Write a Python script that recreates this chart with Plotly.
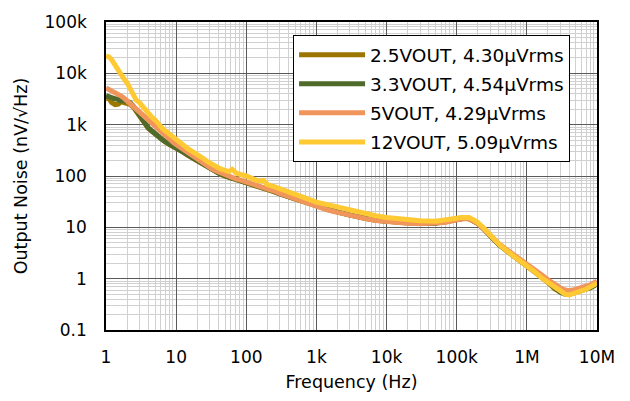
import plotly.graph_objects as go

freq = [1, 1.1, 1.2, 1.35, 1.5, 1.65, 1.8, 2, 2.2, 2.45,
        2.7, 3, 3.3, 3.65, 4, 4.5, 5, 5.5, 6, 6.5,
        7, 8, 9, 10, 11.5, 13, 14.5, 16, 18, 20,
        22.5, 25, 28, 32, 36, 40, 45, 50, 56, 63,
        71, 80, 90, 100, 125, 150, 175, 200, 250, 300,
        400, 500, 700, 1e3, 1.5e3, 2e3, 3e3, 5e3, 7e3, 1e4,
        1.5e4, 2e4, 3e4, 5e4, 7e4, 1e5, 1.15e5, 1.3e5, 1.5e5, 1.75e5,
        2e5, 2.5e5, 3e5, 4e5, 5e5, 6e5, 7e5, 8.5e5, 1e6, 1.3e6,
        1.6e6, 2e6, 2.5e6, 3e6, 3.5e6, 4e6, 4.5e6, 5e6, 6e6, 7e6,
        8e6, 9e6, 1e7]

v_2v5 = [3200, 3300, 2700, 2450, 2500, 2800, 2700, 2600, 2500, 2200,
         1800, 1450, 1200, 980, 850, 740, 650, 590, 530, 490,
         460, 410, 380, 350, 312, 285, 255, 236, 210, 192,
         175, 158, 146, 131, 120, 112, 105, 99, 93, 89,
         85, 81, 77, 74, 67, 61, 57, 54, 49, 44.5,
         39, 35.5, 30.5, 25.8, 21.8, 19.8, 17.2, 14.9, 13.8, 13,
         12.4, 12.1, 11.9, 12, 12.8, 14.2, 14.8, 15, 14.7, 13.4,
         11.9, 8.9, 6.8, 4.6, 3.6, 3.0, 2.6, 2.12, 1.78, 1.38,
         1.08, 0.84, 0.63, 0.55, 0.51, 0.5, 0.52, 0.55, 0.59, 0.63,
         0.67, 0.73, 0.81]

v_3v3 = [3700, 3500, 3300, 3200, 3100, 2900, 2950, 2800, 2700, 2300,
         1900, 1500, 1250, 1000, 880, 760, 660, 600, 540, 500,
         470, 420, 390, 360, 320, 290, 260, 240, 215, 195,
         178, 160, 148, 133, 122, 114, 107, 100, 95, 90,
         86, 82, 78, 75, 68, 62, 58, 55, 50, 45,
         39.5, 36, 31, 26, 22, 20, 17.3, 15, 13.9, 13.1,
         12.5, 12.2, 12, 12.1, 12.9, 14.3, 14.9, 15.1, 14.8, 13.5,
         12, 9, 6.8, 4.6, 3.6, 3.05, 2.65, 2.15, 1.8, 1.4,
         1.1, 0.85, 0.62, 0.54, 0.5, 0.5, 0.52, 0.55, 0.58, 0.62,
         0.66, 0.72, 0.8]

v_5v = [5200, 4900, 4600, 4300, 4000, 3600, 3300, 2900, 2500, 2200,
        1900, 1700, 1500, 1350, 1200, 1000, 900, 800, 720, 660,
        600, 520, 460, 410, 360, 315, 280, 255, 225, 205,
        185, 170, 155, 140, 128, 120, 112, 105, 98, 93,
        88, 84, 80, 77, 70, 64, 60, 56, 51, 46,
        40, 36, 31, 25.5, 21.5, 19.5, 17, 14.8, 13.6, 12.8,
        12.2, 12, 11.8, 11.9, 12.6, 14, 14.6, 14.8, 14.6, 13.3,
        11.8, 9, 6.9, 4.8, 3.8, 3.2, 2.8, 2.3, 1.95, 1.5,
        1.2, 0.95, 0.75, 0.66, 0.6, 0.58, 0.6, 0.62, 0.66, 0.7,
        0.76, 0.82, 0.9]

v_12v = [22000, 21000, 18500, 14000, 11000, 9500, 7800, 6500, 5200, 4000,
         3000, 2700, 2300, 2000, 1750, 1400, 1250, 1050, 950, 820,
         760, 650, 560, 500, 430, 390, 345, 320, 280, 260,
         240, 215, 190, 170, 150, 145, 135, 128, 122, 135,
         115, 108, 104, 100, 88, 80, 82, 68, 62, 56,
         48, 43, 37, 31, 27, 24.5, 21.5, 18.5, 16.8, 15.5,
         14.6, 14, 13.4, 13.2, 13.8, 15, 15.6, 15.8, 15.5, 14,
         12.5, 9.3, 7, 4.7, 3.6, 3, 2.6, 2.1, 1.75, 1.35,
         1.05, 0.85, 0.66, 0.56, 0.5, 0.48, 0.5, 0.53, 0.58, 0.62,
         0.68, 0.75, 0.82]

series_names = ["2.5VOUT, 4.30μVrms", "3.3VOUT, 4.54μVrms",
                "5VOUT, 4.29μVrms", "12VOUT, 5.09μVrms"]
series_vals = [v_2v5, v_3v3, v_5v, v_12v]
series_colors = ["#9C7700", "#4E6B2C", "#F0965C", "#FFC933"]

x_tickvals = [1, 10, 100, 1e3, 1e4, 1e5, 1e6, 1e7]
x_ticktext = ["1", "10", "100", "1k", "10k", "100k", "1M", "10M"]
y_tickvals = [0.1, 1, 10, 100, 1e3, 1e4, 1e5]
y_ticktext = ["0.1", "1", "10", "100", "1k", "10k", "100k"]

FONT = "DejaVu Sans"

fig = go.Figure()
for i, (name, vals, col) in enumerate(zip(series_names, series_vals, series_colors)):
    fig.add_trace(go.Scatter(x=freq, y=vals, mode="lines", name=name,
                             legendgroup=f"g{i}",
                             line=dict(color=col, width=5)))

minor_x = [m * 10 ** e for e in range(0, 7) for m in range(2, 10)]
minor_y = [m * 10 ** e for e in range(-1, 5) for m in range(2, 10)]

axis_common = dict(type="log", showline=True, mirror=True, linecolor="black",
                   linewidth=1.5, gridcolor="#5a5a5a", gridwidth=1,
                   zeroline=False, tickfont=dict(family=FONT, size=17, color="black"),
                   tickcolor="rgba(0,0,0,0)", ticks="outside")

fig.update_xaxes(**axis_common, range=[0, 7], tickmode="array",
                 tickvals=x_tickvals, ticktext=x_ticktext, ticklen=11,
                 minor=dict(tickmode="array", tickvals=minor_x, showgrid=True,
                            gridcolor="#d0d0d0", gridwidth=1, ticks=""),
                 title=dict(text="Frequency (Hz)", standoff=10,
                            font=dict(family=FONT, size=17.5, color="black")))
fig.update_yaxes(**axis_common, range=[-1, 5], tickmode="array",
                 tickvals=y_tickvals, ticktext=y_ticktext, ticklen=14,
                 minor=dict(tickmode="array", tickvals=minor_y, showgrid=True,
                            gridcolor="#d0d0d0", gridwidth=1, ticks=""),
                 title=dict(text="Output Noise (nV/√Hz)", standoff=12,
                            font=dict(family=FONT, size=17.5, color="black")))

fig.update_layout(
    width=630, height=401, autosize=False,
    margin=dict(l=106, r=33, t=20, b=66),
    paper_bgcolor="white", plot_bgcolor="white",
    font=dict(family=FONT, color="black"),
    legend=dict(x=0.381, y=0.957, xanchor="left", yanchor="top",
                bgcolor="white", bordercolor="black", borderwidth=1,
                font=dict(family=FONT, size=18.5, color="black"),
                traceorder="grouped", tracegroupgap=2, itemwidth=66,
                entrywidth=285, entrywidthmode="pixels"),
    showlegend=True,
)

fig.write_html("out.html")
